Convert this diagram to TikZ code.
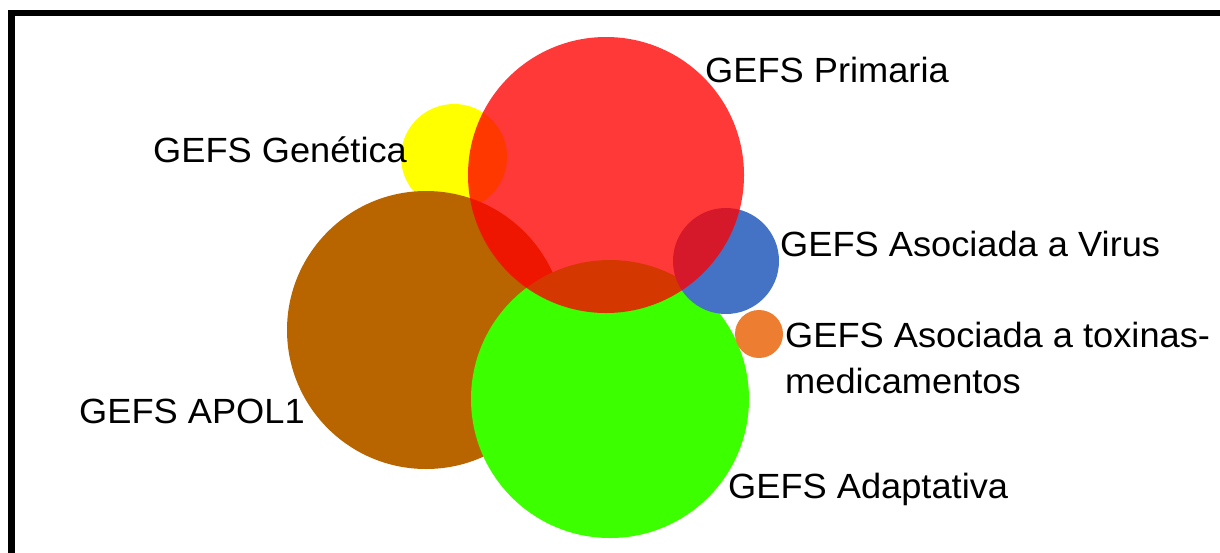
\documentclass[tikz,border=0pt]{standalone}
\usepackage{fontspec}
\setmainfont[FakeStretch=1.035]{Liberation Sans}
\definecolor{gefsyellow}{HTML}{FFFF00}
\definecolor{gefsbrown}{HTML}{B86500}
\definecolor{gefsgreen}{HTML}{3CFF00}
\definecolor{gefsblue}{HTML}{4472C4}
\definecolor{gefsorange}{HTML}{ED7D31}
\definecolor{gefsred}{HTML}{FF0000}
\begin{document}
\begin{tikzpicture}[x=1pt,y=-1pt,
  bubble/.style={circle,draw=none,inner sep=0pt,minimum size=#1},
  lbl/.style={anchor=base west,inner sep=0pt,text=black,
              font=\fontsize{35}{46}\selectfont}]
\useasboundingbox (0,0) rectangle (1220,552);
% frame, running past the right and bottom edges
\begin{scope}
  \clip (0,0) rectangle (1220,552);
  \draw[line width=6.5pt] (11.5,13) rectangle (1270,610);
\end{scope}
% bubbles, bottom to top
\node[bubble=106pt,fill=gefsyellow] (gen) at (454,157) {};
\node[bubble=278pt,fill=gefsbrown] (apol) at (426,330) {};
\node[bubble=278pt,fill=gefsgreen] (adap) at (610,399) {};
\node[bubble=106pt,fill=gefsblue] (virus) at (726,261) {};
\node[bubble=48pt,fill=gefsorange] (tox) at (759,334) {};
\node[bubble=276pt,fill=gefsred,fill opacity=0.78] (prim) at (606,175) {};
% labels
\node[lbl] (primL) at (705,82.3) {GEFS Primaria};
\node[lbl] (genL) at (153,162.3) {GEFS Genética};
\node[lbl] (virusL) at (780,256.7) {GEFS Asociada a Virus};
\node[lbl] (toxL) at (785,347.3) {GEFS Asociada a toxinas-};
\node[lbl] (toxL2) at (785,393.3) {medicamentos};
\node[lbl] (apolL) at (79,423.3) {GEFS APOL1};
\node[lbl] (adapL) at (728,498) {GEFS Adaptativa};
\end{tikzpicture}
\end{document}
